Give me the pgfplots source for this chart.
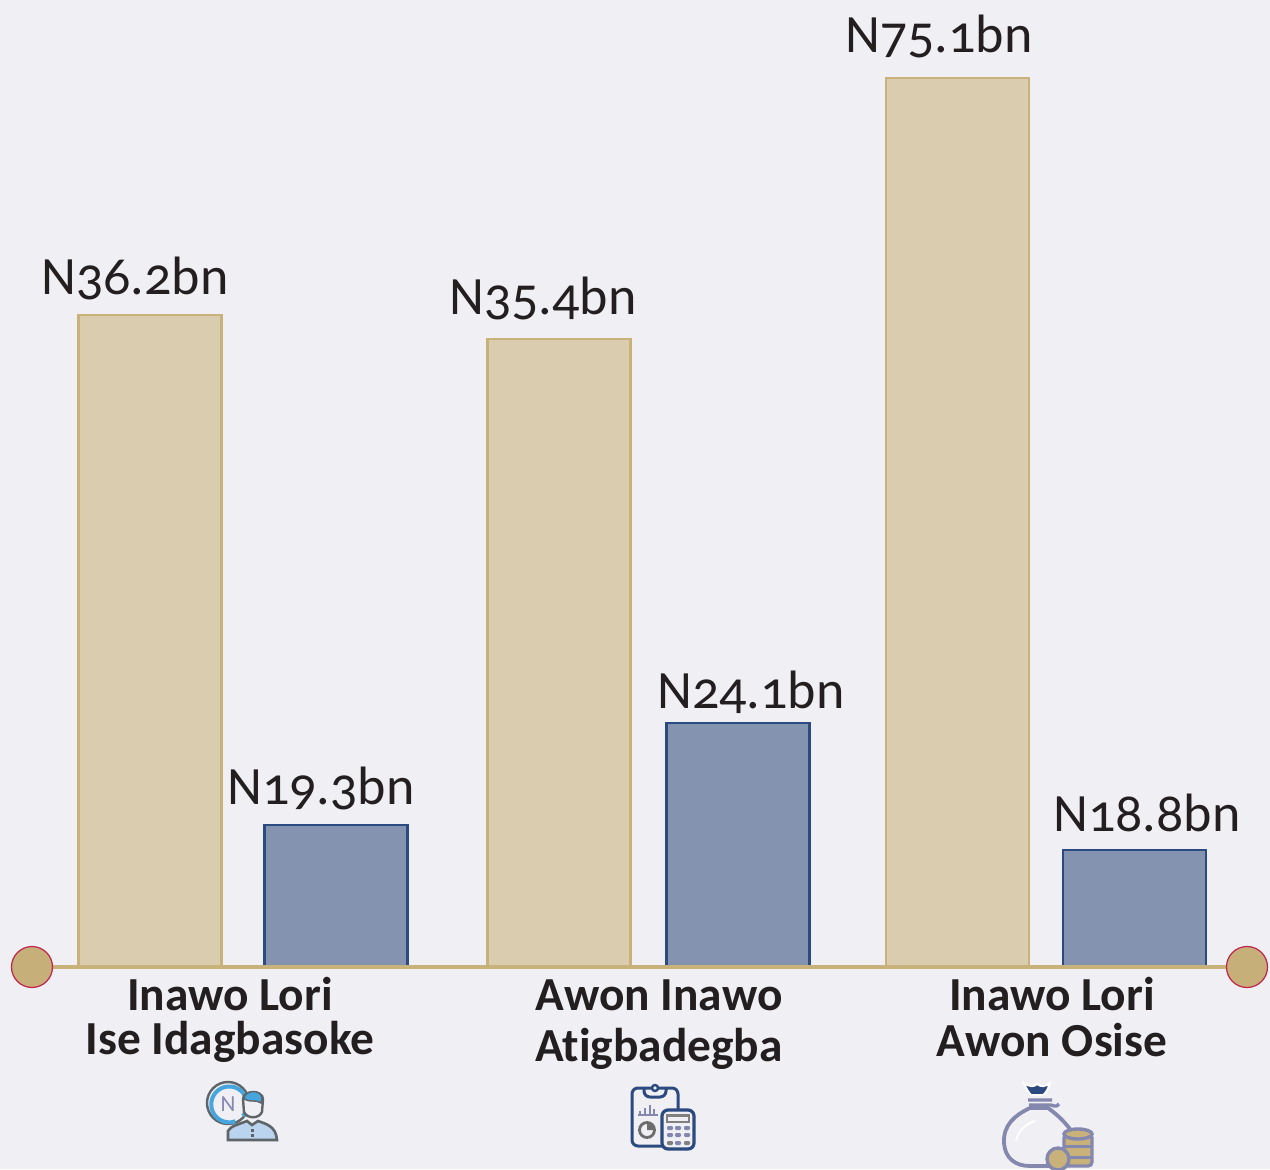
\documentclass[border=0pt]{standalone}
\usepackage{pgfplots}
\pgfplotsset{compat=1.18}
\usepackage{fontspec}
\setmainfont[Numbers=OldStyle,Ligatures=NoCommon]{Carlito}
\definecolor{bgc}{HTML}{EFEFF4}
\definecolor{tanf}{HTML}{DACCAE}
\definecolor{tanl}{HTML}{C9B27A}
\definecolor{dotf}{HTML}{C6AF78}
\definecolor{bluef}{HTML}{8493B0}
\definecolor{bluel}{HTML}{2B4A7F}
\definecolor{dotl}{HTML}{C0244A}
\definecolor{txt}{HTML}{231F20}
\definecolor{icgray}{HTML}{5F6468}
\definecolor{icblue}{HTML}{45A5DC}
\definecolor{iclight}{HTML}{BAD3EE}
\definecolor{icpur}{HTML}{8588AE}
\newcommand{\vl}[3]{\node[anchor=base,font=\fontsize{27}{30}\selectfont,text=txt,inner sep=0pt] at (axis cs:#1,#2) {#3};}
\begin{document}
\begin{tikzpicture}
\fill[bgc] (0,0) rectangle (635pt,584.5pt);
\path[use as bounding box] (0,0) rectangle (635pt,584.5pt);
\begin{axis}[
  at={(0,0)},anchor=south west,
  x=0.5pt,y=0.5pt,
  xmin=0,xmax=1270,ymin=-202,ymax=967,
  axis lines=none,clip=false,
  ybar,bar width=71.5pt,bar shift=0pt,
]
\addplot[draw=tanl,line width=1.4pt,fill=tanf] coordinates {(150,652)(559,628)(957.5,889)};
\addplot[draw=bluel,line width=1.4pt,fill=bluef] coordinates {(336,142)(738,244)(1134.5,117)};
\vl{135}{672}{N36.2bn}
\vl{543}{652}{N35.4bn}
\vl{939}{914}{N75.1bn}
\vl{321}{162}{N19.3bn}
\vl{751}{258}{N24.1bn}
\vl{1147}{135}{N18.8bn}
\end{axis}
\begin{scope}[x=0.5pt,y=-0.5pt,yshift=584.5pt]
\draw[tanl,line width=2pt] (32,967)--(1247,967);
\foreach \c in {32,1247}{\filldraw[fill=dotf,draw=dotl,line width=0.6pt] (\c,967) circle (20.5);}
\tikzset{cat/.style={anchor=base,font=\fontsize{23.7}{26}\selectfont\bfseries,text=txt,inner sep=0pt}}
\node[cat] at (230,1010) {Inawo Lori};
\node[cat] at (230,1054) {Ise Idagbasoke};
\node[cat] at (659,1010) {Awon Inawo};
\node[cat] at (659,1061) {Atigbadegba};
\node[cat] at (1052,1010) {Inawo Lori};
\node[cat] at (1052,1056) {Awon Osise};
% icon 1
\draw[icgray,line width=1.2pt] (228,1103) circle (21);
\draw[icblue,line width=2pt] (243,1116) arc (40:-290:18);
\node[text=icpur,font=\fontsize{11.5}{12}\selectfont,inner sep=0pt] at (228,1104) {N};
\filldraw[fill=iclight,draw=icgray,line width=1.3pt] (228,1140) -- (228,1131) .. controls (230,1126) and (240,1124) .. (247,1121) -- (252,1125) -- (258,1121) .. controls (266,1124) and (276,1126) .. (277,1140) -- cycle;
\filldraw[fill=bgc,draw=icgray,line width=1.2pt] (243,1099) .. controls (243,1090) and (263,1090) .. (263,1099) -- (262,1112) .. controls (259,1119) and (247,1119) .. (244,1112) -- cycle;
\filldraw[fill=icblue,draw=icgray,line width=0.7pt] (244,1099) .. controls (244,1090) and (262,1088) .. (262,1099) -- (261,1103) .. controls (256,1099) and (250,1103) .. (244,1099) -- cycle;
\fill[icgray] (250.5,1129) rectangle (253.5,1132);
\fill[icgray] (250.5,1134) rectangle (253.5,1137);
% icon 2
\draw[bluel,line width=1.5pt,rounded corners=3pt,fill=bgc] (632,1088) rectangle (678,1146);
\draw[bluel,line width=1.5pt,rounded corners=3pt] (644,1088) -- (644,1097) -- (666,1097) -- (666,1088);
\draw[bluel,line width=1.2pt,fill=bgc] (655,1088) circle (3);
\fill[icpur] (638,1114) rectangle (658,1116);
\foreach \a/\b in {640/1111,645/1108,650/1105,654/1109}{\fill[icpur] (\a-1,1114) rectangle (\a+1,\b);}
\draw[gray!85!black,line width=1.4pt,fill=bgc] (647,1130) circle (7.5);
\fill[gray!85!black] (647,1130) -- (647,1122) arc (-90:0:8) -- cycle;
\filldraw[fill=bgc,draw=bluel,line width=1.6pt,rounded corners=3pt] (662,1110) rectangle (694,1149);
\filldraw[fill=bgc,draw=gray,line width=1.2pt] (667,1115.5) rectangle (689,1122);
\foreach \yy/\cc in {1128/icpur,1135/icpur}{\foreach \xx in {670,678,687}{\fill[\cc,rounded corners=0.6pt] (\xx-3,\yy-2) rectangle (\xx+3,\yy+2);}}
\fill[gray,rounded corners=0.6pt] (667,1141) rectangle (673,1145);
\fill[icpur,rounded corners=0.6pt] (675,1141) rectangle (681,1145);
\fill[gray,rounded corners=0.6pt] (684,1141) rectangle (690,1145);
% icon 3
\begin{scope}
\clip (980,1070) rectangle (1110,1169);
\filldraw[fill=bluel,draw=white,line width=1pt] (1024,1083) .. controls (1030,1087) and (1034,1087) .. (1037,1084) .. controls (1041,1087) and (1045,1087) .. (1050,1083) .. controls (1048,1090) and (1045,1094) .. (1043,1095) -- (1031,1095) .. controls (1029,1093) and (1026,1089) .. (1024,1083) -- cycle;
\draw[icpur,line width=1.7pt] (1028,1100) -- (1052,1100) (1029,1105) -- (1051,1105) .. controls (1056,1107) and (1058,1106) .. (1059,1104);
\draw[icpur,line width=1.9pt,fill=bgc] (1030,1108) .. controls (1015,1115) and (1003,1125) .. (1004,1143) .. controls (1005,1158) and (1015,1166) .. (1030,1166) -- (1060,1166) .. controls (1075,1164) and (1082,1155) .. (1078,1143) .. controls (1072,1128) and (1058,1115) .. (1048,1108) -- cycle;
\draw[white,line width=1pt] (1016,1141) .. controls (1018,1131) and (1025,1124) .. (1035,1121);
\filldraw[fill=tanl,draw=icpur,line width=1.7pt,rounded corners=2pt] (1064,1134) rectangle (1092,1166);
\draw[icpur,line width=1.5pt] (1064,1146) -- (1092,1146) (1064,1157) -- (1092,1157);
\filldraw[fill=tanl,draw=icpur,line width=1.7pt] (1078,1134) ellipse (14 and 5);
\filldraw[fill=tanl,draw=icpur,line width=1.7pt] (1058,1159) circle (11);
\end{scope}
\end{scope}
\end{tikzpicture}
\end{document}
